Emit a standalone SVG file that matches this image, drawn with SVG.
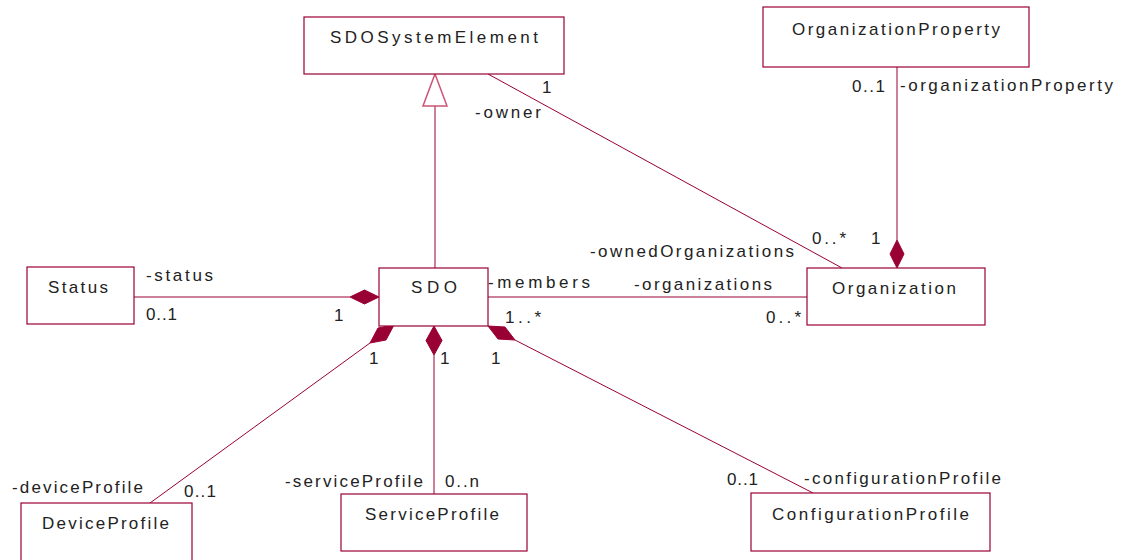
<svg xmlns="http://www.w3.org/2000/svg" width="1123" height="560" viewBox="0 0 1123 560">
<style>
.box{fill:#fff;stroke:#990033;stroke-width:1.2}
.ln{fill:none;stroke:#990033;stroke-width:1}
.dia{fill:#990033;stroke:#990033;stroke-width:1}
.tri{fill:#fff;stroke:#cc5577;stroke-width:1.5}
text{font-family:"Liberation Sans",Arial,sans-serif;font-size:17px;fill:#222}
</style>
<rect width="1123" height="560" fill="#fff"/>
<g id="connectors">
  <polyline class="ln" points="435,106 435,268"/>
  <polygon class="tri" points="435,74 447,106 423,106"/>
  <line class="ln" x1="488" y1="74" x2="842" y2="268"/>
  <line class="ln" x1="897" y1="67" x2="897" y2="240"/>
  <polygon class="dia" points="897,268 904,254 897,240 890,254"/>
  <line class="ln" x1="134" y1="297" x2="350" y2="297"/>
  <polygon class="dia" points="379,297 364.5,290 350,297 364.5,304"/>
  <line class="ln" x1="488" y1="297" x2="807" y2="297"/>
  <line class="ln" x1="370" y1="343" x2="150" y2="503"/>
  <polygon class="dia" points="394,325 386,340 370,343 378,328"/>
  <line class="ln" x1="434" y1="355" x2="434" y2="494"/>
  <polygon class="dia" points="434,326 442,340.5 434,355 426,340.5"/>
  <line class="ln" x1="515" y1="340" x2="813" y2="493"/>
  <polygon class="dia" points="488,326 505,327 515,340 498,339"/>
  <text x="542" y="93" textLength="7">1</text>
  <text x="475" y="118" textLength="66" lengthAdjust="spacing">-owner</text>
  <text x="852" y="92" textLength="33" lengthAdjust="spacing">0..1</text>
  <text x="900" y="91" textLength="213" lengthAdjust="spacing">-organizationProperty</text>
  <text x="590" y="257" textLength="204" lengthAdjust="spacing">-ownedOrganizations</text>
  <text x="812" y="244" textLength="34" lengthAdjust="spacing">0..*</text>
  <text x="871" y="244" textLength="8">1</text>
  <text x="634" y="290" textLength="138" lengthAdjust="spacing">-organizations</text>
  <text x="766" y="323" textLength="35" lengthAdjust="spacing">0..*</text>
  <text x="488" y="288" textLength="102" lengthAdjust="spacing">-members</text>
  <text x="505" y="323" textLength="36" lengthAdjust="spacing">1..*</text>
  <text x="146" y="281" textLength="67" lengthAdjust="spacing">-status</text>
  <text x="146" y="320" textLength="31" lengthAdjust="spacing">0..1</text>
  <text x="334" y="321" textLength="8">1</text>
  <text x="369" y="364" textLength="8">1</text>
  <text x="440" y="364" textLength="8">1</text>
  <text x="491" y="364" textLength="8">1</text>
  <text x="12" y="493" textLength="131" lengthAdjust="spacing">-deviceProfile</text>
  <text x="184" y="497" textLength="32" lengthAdjust="spacing">0..1</text>
  <text x="285" y="487" textLength="138" lengthAdjust="spacing">-serviceProfile</text>
  <text x="445" y="487" textLength="34" lengthAdjust="spacing">0..n</text>
  <text x="727" y="485" textLength="31" lengthAdjust="spacing">0..1</text>
  <text x="804" y="484" textLength="197" lengthAdjust="spacing">-configurationProfile</text>
</g>
<g id="SDOSystemElement">
  <rect class="box" x="304" y="17" width="260" height="57"/>
  <text x="330" y="43" textLength="208" lengthAdjust="spacing">SDOSystemElement</text>
</g>
<g id="OrganizationProperty">
  <rect class="box" x="763" y="7" width="266" height="60"/>
  <text x="792" y="35" textLength="208" lengthAdjust="spacing">OrganizationProperty</text>
</g>
<g id="Status">
  <rect class="box" x="27" y="267" width="107" height="57"/>
  <text x="48" y="293" textLength="60" lengthAdjust="spacing">Status</text>
</g>
<g id="SDO">
  <rect class="box" x="379" y="268" width="109" height="58"/>
  <text x="411" y="293" textLength="46" lengthAdjust="spacing">SDO</text>
</g>
<g id="Organization">
  <rect class="box" x="807" y="268" width="178" height="57"/>
  <text x="832" y="294" textLength="124" lengthAdjust="spacing">Organization</text>
</g>
<g id="DeviceProfile">
  <rect class="box" x="21" y="503" width="171" height="70"/>
  <text x="42" y="529" textLength="127" lengthAdjust="spacing">DeviceProfile</text>
</g>
<g id="ServiceProfile">
  <rect class="box" x="341" y="494" width="186" height="57"/>
  <text x="365" y="520" textLength="134" lengthAdjust="spacing">ServiceProfile</text>
</g>
<g id="ConfigurationProfile">
  <rect class="box" x="751" y="493" width="239" height="58"/>
  <text x="772" y="520" textLength="197" lengthAdjust="spacing">ConfigurationProfile</text>
</g>
</svg>
